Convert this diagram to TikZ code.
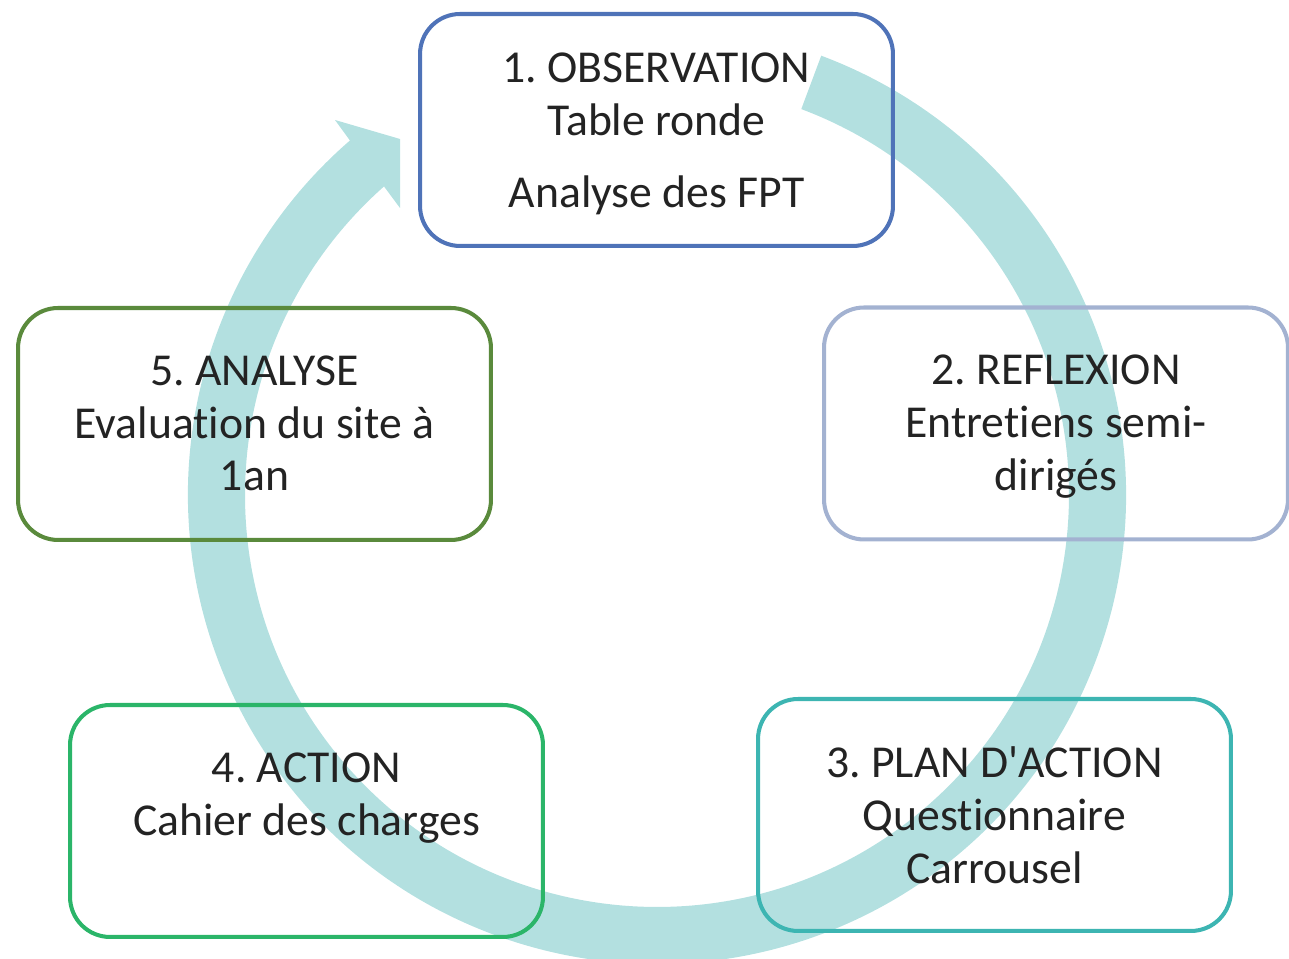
\documentclass[tikz,border=0pt]{standalone}
\usepackage{fontspec}
\setmainfont{Carlito}[Ligatures=NoCommon]
\frenchspacing
\usetikzlibrary{positioning,calc}
\definecolor{bandteal}{RGB}{179,224,224}
\definecolor{obsblue}{RGB}{79,115,184}
\definecolor{refgrey}{RGB}{163,178,209}
\definecolor{planteal}{RGB}{61,181,178}
\definecolor{actgreen}{RGB}{43,181,105}
\definecolor{anaolive}{RGB}{90,138,60}
\definecolor{txtgrey}{RGB}{35,35,35}

\begin{document}
\begin{tikzpicture}[x=0.02cm, y=0.02cm,
	stepbox/.style={draw, line width=2.3pt, rounded corners=0.8cm, minimum width=9.46cm, minimum height=4.64cm},
	steptext/.style={align=center, inner sep=0pt, text=txtgrey, font=\fontsize{26}{30}\selectfont}]
	\useasboundingbox (0,0) rectangle (1289,959);
	\coordinate (c) at (657,464);
	% big cycle arrow
	\fill[bandteal] ($(c)+(69.5:469)$) arc(69.5:-229.1:469) -- (335,839) -- (400,820) -- (400,751) -- ($(c)+(-228.5:412)$) arc(-228.5:69.5:412) -- cycle;
	% the five steps
	\node[stepbox, draw=obsblue] (obs) at (656.5,829) {};
	\node[stepbox, draw=refgrey, minimum width=9.28cm] (refl) at (1056,535.5) {};
	\node[stepbox, draw=planteal] (plan) at (994.5,144) {};
	\node[stepbox, draw=actgreen] (act) at (306.5,138) {};
	\node[stepbox, draw=anaolive] (ana) at (254.5,535) {};
	%\node[stepbox] (x) at (0,0) {};
	\node[steptext, below=0.82cm of obs.north] (obstxt) {1. OBSERVATION\\Table ronde\\[11pt]Analyse des FPT};
	\node[steptext, below=0.99cm of refl.north] (refltxt) {2. REFLEXION\\Entretiens semi-\\dirigés};
	\node[steptext, below=0.99cm of plan.north] (plantxt) {3. PLAN D\textquotesingle ACTION\\Questionnaire\\Carrousel};
	\node[steptext, below=0.99cm of act.north] (acttxt) {4. ACTION\\Cahier des charges};
	\node[steptext, below=0.99cm of ana.north] (anatxt) {5. ANALYSE\\Evaluation du site à\\1an};
\end{tikzpicture}
\end{document}
